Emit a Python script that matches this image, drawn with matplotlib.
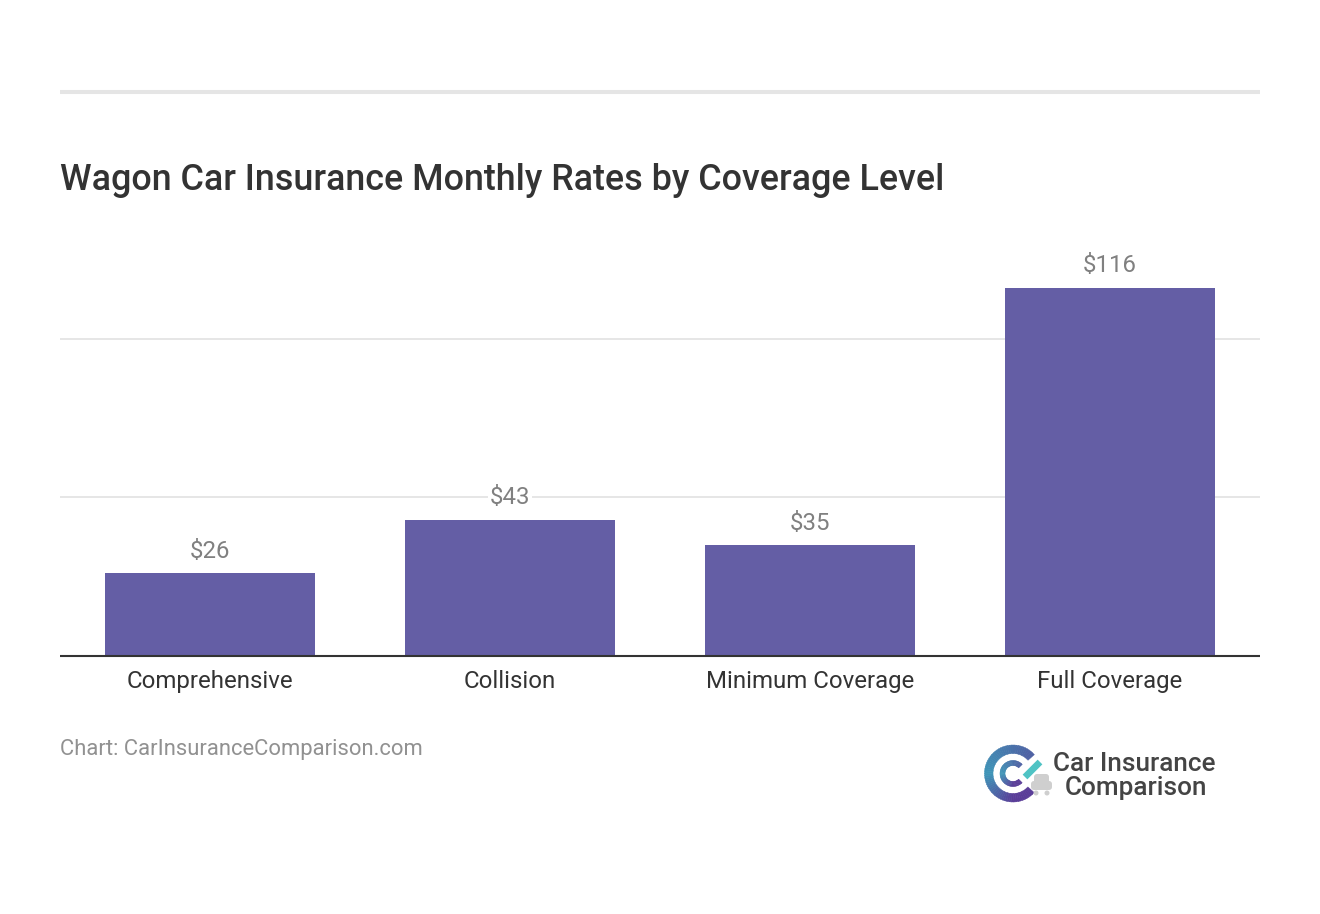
import matplotlib
matplotlib.use("Agg")
import matplotlib.pyplot as plt
import numpy as np
from matplotlib.patches import Wedge, FancyBboxPatch, Circle
from matplotlib.colors import to_rgb

plt.rcParams['font.family'] = ['Roboto', 'DejaVu Sans']

categories = ["Comprehensive", "Collision", "Minimum Coverage", "Full Coverage"]
rates = [26, 43, 35, 116]
yticks = [50, 100]

W, H = 1320, 914
fig = plt.figure(figsize=(W / 100, H / 100), dpi=100, facecolor="white")

# pixel overlay for rule, title, footer, logo
bg = fig.add_axes([0, 0, 1, 1])
bg.set_xlim(0, W)
bg.set_ylim(H, 0)
bg.axis("off")

bg.plot([60, 1260], [92, 92], color="#e5e5e5", lw=2.9, solid_capstyle="butt")
bg.text(60, 181, "Wagon Car Insurance Monthly Rates by Coverage Level", fontsize=25.87,
        fontweight="medium", color="#333333", va="center", ha="left")
bg.text(60, 749, "Chart: CarInsuranceComparison.com", fontsize=15.8, color="#919191",
        va="center", ha="left")

# chart
ax = fig.add_axes([60 / W, 1 - 656 / H, 1200 / W, 476 / H])
ax.patch.set_alpha(0)
ax.bar(range(len(rates)), rates, width=0.7, color="#645ea5", zorder=3)
ax.set_xlim(-0.5, 3.5)
ax.set_ylim(0, 150)
ax.set_yticks(yticks)
ax.tick_params(axis="y", length=0, labelleft=False)
ax.tick_params(axis="x", length=0, pad=10, labelsize=17.3, labelcolor="#333333")
ax.set_xticks(range(len(categories)))
ax.set_xticklabels(categories)
ax.grid(axis="y", color="#e6e6e6", lw=1.4, zorder=0)
for s in ["top", "left", "right"]:
    ax.spines[s].set_visible(False)
ax.spines["bottom"].set_color("#333333")
ax.spines["bottom"].set_linewidth(1.5)
ax.spines["bottom"].set_capstyle("butt")
ax.spines["bottom"].set_zorder(4)

for i, v in enumerate(rates):
    ax.annotate(f"${v}", (i, v), xytext=(0, 7.5), textcoords="offset points", ha="center",
                va="bottom", fontsize=17.3, color="#808080", zorder=5,
                bbox=dict(facecolor="white", edgecolor="none", pad=1))

# logo
cx, cy = 1013, 773.5
left_col = np.array(to_rgb("#3f96b8"))
bot_col = np.array(to_rgb("#5a3d98"))
top_col = np.array(to_rgb("#4f62a4"))


def ring(r, width, start, end, n=60):
    edges = np.linspace(start, end, n + 1)
    for a, b in zip(edges[:-1], edges[1:]):
        mid = (a + b) / 2
        # angle measured with y pointing down: 90 is bottom, 180 left, 270 top
        if mid <= 180:
            t = (mid - 90) / 90 if mid > 90 else 0
            c = bot_col + (left_col - bot_col) * t
        else:
            t = min((mid - 180) / 130, 1)
            c = left_col + (top_col - left_col) * t
        bg.add_patch(Wedge((cx, cy), r, a, b + 0.6, width=width, facecolor=c, edgecolor=c, lw=0.3))


ring(28.5, 8.5, 42, 318)
ring(13, 5, 45, 315)

# car
bg.add_patch(FancyBboxPatch((1031, 781), 21, 9, boxstyle="round,pad=0,rounding_size=3",
                            facecolor="#cfcfcf", edgecolor="none"))
bg.add_patch(FancyBboxPatch((1034, 774), 15, 10, boxstyle="round,pad=0,rounding_size=3",
                            facecolor="#cfcfcf", edgecolor="none"))
bg.add_patch(Circle((1036, 793), 2.5, facecolor="#cfcfcf", edgecolor="none"))
bg.add_patch(Circle((1047, 793), 2.5, facecolor="#cfcfcf", edgecolor="none"))
# check stroke
bg.plot([1025, 1040], [777, 762], color="#4fc3c4", lw=4.8, solid_capstyle="butt")

bg.text(1134, 764, "Car Insurance", fontsize=18.8, fontweight="medium", color="#444444",
        va="center", ha="center")
bg.text(1136.5, 788, "Comparison", fontsize=18.8, fontweight="medium", color="#444444",
        va="center", ha="center")

fig.savefig("out.png", dpi=100, facecolor="white")
